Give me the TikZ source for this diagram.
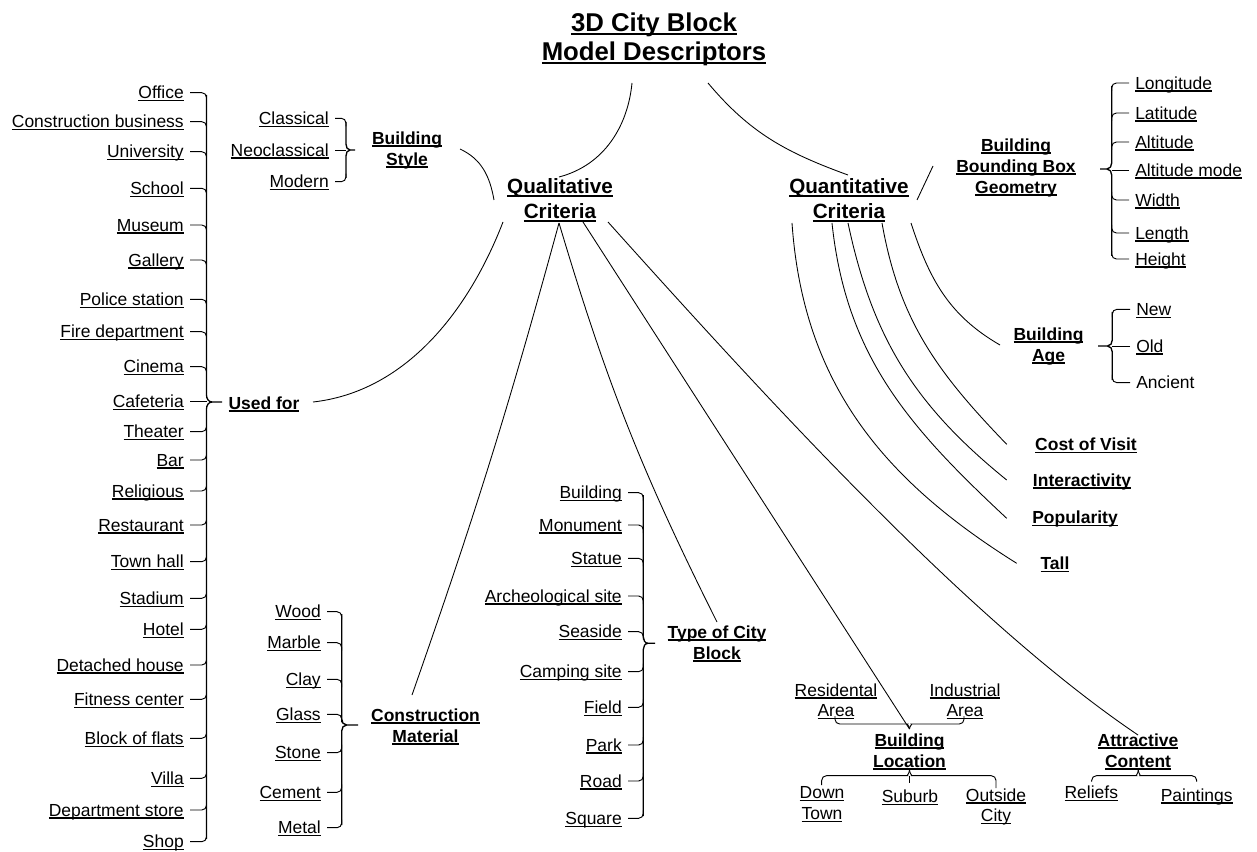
\documentclass[tikz,border=0pt]{standalone}
\usepackage{fontspec}
\setmainfont{Liberation Sans}
\usetikzlibrary{calc}
% underlines at a fixed depth below the baseline
\newcommand\ulr[1]{\setbox0\hbox{#1}\rlap{\rule[-0.1425em]{\wd0}{0.073em}}\box0}
\newcommand\ulb[1]{\setbox0\hbox{#1}\rlap{\rule[-0.155em]{\wd0}{0.1em}}\box0}

\begin{document}
\begin{tikzpicture}[x=0.75pt,y=0.75pt,
  leaf/.style={inner sep=0pt, font=\fontsize{13.1pt}{15.5pt}\selectfont, text height=9.4pt, text depth=0pt},
  twoline/.style={inner sep=0pt, align=center, font=\fontsize{13.1pt}{15.5pt}\selectfont},
  sub1/.style={inner sep=0pt, font=\fontsize{13.1pt}{15.75pt}\selectfont\bfseries, text height=9.4pt, text depth=0pt},
  bold2/.style={inner sep=0pt, align=center, font=\fontsize{13.1pt}{15.75pt}\selectfont\bfseries},
  crit/.style={inner sep=0pt, align=center, font=\fontsize{15.5pt}{18.75pt}\selectfont\bfseries},
  ttl/.style={inner sep=0pt, align=center, font=\fontsize{19.3pt}{21.75pt}\selectfont\bfseries},
  link/.style={line width=0.65pt},
  hook/.style={line width=0.7pt, rounded corners=3.5pt},
  spine/.style={line width=1pt, line join=round}]
\useasboundingbox (0,0) rectangle (1257,-852);

% ---------- main nodes ----------
\node[ttl] (title) at (654,-39) {\ulb{3D City Block}\\\ulb{Model Descriptors}};
\node[crit] (qual) at (560,-200) {\ulb{Qualitative}\\\ulb{Criteria}};
\node[crit] (quant) at (849,-200.5) {\ulb{Quantitative}\\\ulb{Criteria}};

% ---------- qualitative branches ----------
\node[bold2] (style) at (407,-150) {\ulb{Building}\\\ulb{Style}};
\node[sub1] (usedfor) at (264,-403) {\ulb{Used for}};
\node[bold2] (cm) at (425.5,-727) {\ulb{Construction}\\\ulb{Material}};
\node[bold2] (type) at (717,-644) {\ulb{Type of City}\\\ulb{Block}};
\node[bold2] (loc) at (909.5,-752) {\ulb{Building}\\\ulb{Location}};
\node[bold2] (attr) at (1138,-752) {\ulb{Attractive}\\\ulb{Content}};

% ---------- quantitative branches ----------
\node[bold2] (bbg) at (1016,-167.5) {\ulb{Building}\\\ulb{Bounding Box}\\\ulb{Geometry}};
\node[bold2] (age) at (1048.5,-346.5) {\ulb{Building}\\\ulb{Age}};
\node[sub1] (cost) at (1086,-444.3) {\ulb{Cost of Visit}};
\node[sub1] (inter) at (1082,-480) {\ulb{Interactivity}};
\node[sub1] (pop) at (1075,-517.3) {\ulb{Popularity}};
\node[sub1] (tall) at (1055,-563.3) {\ulb{Tall}};

% ---------- connectors between the main nodes ----------
\draw[link] ($(title)+(-22,-44)$) .. controls +(-4,-42) and +(46,12) .. ($(qual)+(-1,23)$);
\draw[link] ($(title)+(54,-44)$) to[out=-50,in=160] ($(quant)+(-1,25.5)$);

\draw[link] ($(qual)+(-66,0)$) to[out=100,in=-25] ($(style)+(53,1)$);
\draw[link] ($(qual)+(-57,-22)$) .. controls +(-36,-93) and +(90,10) .. ($(usedfor)+(49,1)$);
\draw[link] ($(qual)+(-1,-23)$) to[bend left=2] ($(cm)+(-13.5,32)$);
\draw[link] ($(qual)+(-1,-23)$) to[bend right=5] ($(type)+(0,22)$);
\coordinate (loctop) at (909.5,-729);
\draw[link] ($(qual)+(23,-22)$) -- (loctop);
\draw[link] ($(qual)+(48,-22)$) .. controls +(167,-186) and +(-166,112) .. ($(attr)+(0,17)$);

\draw[link] ($(quant)+(68,0.5)$) -- ($(bbg)+(-83,1.5)$);
\draw[link] ($(quant)+(62,-22.5)$) to[out=-72,in=150] ($(age)+(-48.5,1.5)$);
\draw[link] ($(quant)+(33,-22.5)$) to[out=-80,in=134] ($(cost)+(-79.3,0)$);
\draw[link] ($(quant)+(-1,-22.5)$) to[out=-78,in=141] ($(inter)+(-75.3,0)$);
\draw[link] ($(quant)+(-17,-22.5)$) to[out=-84,in=137] ($(pop)+(-68.3,-1)$);
\draw[link] ($(quant)+(-57,-22.5)$) to[out=-86,in=148] ($(tall)+(-38.3,0)$);

% ---------- Used for ----------
\foreach \nm/\lbl/\y in {office/Office/92.7, cbus/Construction business/121.7, univ/University/151.7,
  school/School/188.3, museum/Museum/225, gallery/Gallery/260, police/Police station/299.3,
  fire/Fire department/331.7, cinema/Cinema/366.7, cafe/Cafeteria/401.7, theater/Theater/431.7,
  bar/Bar/460, relig/Religious/491, rest/Restaurant/525, townhall/Town hall/561.7,
  stadium/Stadium/598.3, hotel/Hotel/629.3, detached/Detached house/665,
  fitness/Fitness center/699.3, flats/Block of flats/738.3, villa/Villa/778.3,
  dept/Department store/810, shop/Shop/841.7}
  \node[leaf, anchor=east] (\nm) at (184,-\y) {\ulr{\lbl}};
\foreach \nm in {office,cbus,univ,school,museum,gallery,police,fire,cinema}
  \draw[hook] ($(\nm.east)+(6,0)$) -| ++(16.5,-8);
\draw[hook] ($(cafe.east)+(6,0)$) -- ++(16.5,0);
\foreach \nm in {theater,bar,relig,rest,townhall,stadium,hotel,detached,fitness,flats,villa,dept,shop}
  \draw[hook] ($(\nm.east)+(6,0)$) -| ++(16.5,8);
\draw[spine] (206.5,-95) -- (206.5,-395) to[out=-90,in=180] (212,-402) -- (222,-402);
\draw[spine] (206.5,-839) -- (206.5,-409) to[out=90,in=180] (212,-402);

% ---------- Building Style ----------
\foreach \nm/\lbl/\y in {classical/Classical/118.3, neo/Neoclassical/150, modern/Modern/181.7}
  \node[leaf, anchor=east] (\nm) at (329,-\y) {\ulr{\lbl}};
\draw[hook] ($(classical.east)+(6,0)$) -| ++(11,-8);
\draw[hook] ($(neo.east)+(6,0)$) -- ++(11,0);
\draw[hook] ($(modern.east)+(6,0)$) -| ++(11,8);
\draw[spine] (346,-122) -- (346,-144) to[out=-90,in=180] (350,-150) -- (355,-150);
\draw[spine] (346,-178) -- (346,-156) to[out=90,in=180] (350,-150);

% ---------- Construction Material ----------
\foreach \nm/\lbl/\y in {wood/Wood/611.7, marble/Marble/642.7, clay/Clay/679.3, glass/Glass/714.3,
  stone/Stone/752.7, cement/Cement/792.3, metal/Metal/827.7}
  \node[leaf, anchor=east] (\nm) at (321,-\y) {\ulr{\lbl}};
\foreach \nm in {wood,marble,clay,glass}
  \draw[hook] ($(\nm.east)+(6,0)$) -| ++(14.7,-8);
\foreach \nm in {stone,cement,metal}
  \draw[hook] ($(\nm.east)+(6,0)$) -| ++(14.7,8);
\draw[spine] (341.7,-614) -- (341.7,-719) to[out=-90,in=180] (346.5,-725) -- (358,-725);
\draw[spine] (341.7,-825) -- (341.7,-731) to[out=90,in=180] (346.5,-725);

% ---------- Type of City Block ----------
\foreach \nm/\lbl/\y in {bldg/Building/492.7, monument/Monument/525, statue/Statue/558.3,
  arch/Archeological site/596, seaside/Seaside/631.7, camping/Camping site/671.7,
  field/Field/707.3, park/Park/745, road/Road/781, square/Square/818.3}
  \node[leaf, anchor=east] (\nm) at (622,-\y) {\ulr{\lbl}};
\foreach \nm in {bldg,monument,statue,arch,seaside}
  \draw[hook] ($(\nm.east)+(6,0)$) -| ++(15.3,-8);
\foreach \nm in {camping,field,park,road,square}
  \draw[hook] ($(\nm.east)+(6,0)$) -| ++(15.3,8);
\draw[spine] (643.3,-495) -- (643.3,-637) to[out=-90,in=180] (648,-643.3) -- (655,-643.3);
\draw[spine] (643.3,-816) -- (643.3,-649.5) to[out=90,in=180] (648,-643.3);

% ---------- Building Bounding Box Geometry ----------
\foreach \nm/\lbl/\y in {lon/Longitude/83, lat/Latitude/113, alt/Altitude/142, altmode/Altitude mode/170,
  width/Width/200, length/Length/233, height/Height/259}
  \node[leaf, anchor=west] (\nm) at (1135,-\y) {\ulr{\lbl}};
\foreach \nm in {lon,lat,alt}
  \draw[hook] ($(\nm.west)+(-6,0)$) -| ++(-17.3,-8);
\draw[hook] ($(altmode.west)+(-6,0)$) -- ++(-17.3,0);
\foreach \nm in {width,length,height}
  \draw[hook] ($(\nm.west)+(-6,0)$) -| ++(-17.3,8);
\draw[spine] (1111.7,-86) -- (1111.7,-163) to[out=-90,in=0] (1107,-169) -- (1100,-169);
\draw[spine] (1111.7,-256) -- (1111.7,-175) to[out=90,in=0] (1107,-169);

% ---------- Building Age ----------
\node[leaf, anchor=west] (new) at (1136,-309.3) {\ulr{New}};
\node[leaf, anchor=west] (old) at (1136,-346) {\ulr{Old}};
\node[leaf, anchor=west] (ancient) at (1136,-382.7) {Ancient};
\draw[hook] ($(new.west)+(-6,0)$) -| ++(-17.7,-8);
\draw[hook] ($(old.west)+(-6,0)$) -- ++(-17.7,0);
\draw[hook] ($(ancient.west)+(-6,0)$) -| ++(-17.7,8);
\draw[spine] (1112.3,-312) -- (1112.3,-340) to[out=-90,in=0] (1107.5,-346) -- (1098,-346);
\draw[spine] (1112.3,-380) -- (1112.3,-352) to[out=90,in=0] (1107.5,-346);

% ---------- Building Location ----------
\node[twoline] (resid) at (836,-701.5) {\ulr{Residental}\\\ulr{Area}};
\node[twoline] (indus) at (965,-701.5) {\ulr{Industrial}\\\ulr{Area}};
\draw[hook] (835,-716) |- (903,-724) to[out=0,in=90] (loctop);
\draw[hook] (964,-716) |- (916,-724) to[out=180,in=90] (loctop);

\node[twoline] (down) at (822,-804.5) {\ulr{Down}\\\ulr{Town}};
\node[leaf] (suburb) at (910,-796.7) {\ulr{Suburb}};
\node[twoline] (outside) at (996,-807) {\ulr{Outside}\\\ulr{City}};
\coordinate (locbot) at (909.5,-770);
\draw[hook] (821.7,-785) |- (903,-775.7) to[out=0,in=-90] (locbot);
\draw[hook] (996,-788) |- (916,-775.7) to[out=180,in=-90] (locbot);
\draw[hook] (909.5,-775.7) -- (909.5,-783);

% ---------- Attractive Content ----------
\node[leaf] (reliefs) at (1091.3,-792.7) {\ulr{Reliefs}};
\node[leaf] (paint) at (1196.7,-795) {\ulr{Paintings}};
\coordinate (attbot) at (1138.3,-770);
\draw[hook] (1091.7,-781.7) |- (1132,-775.7) to[out=0,in=-90] (attbot);
\draw[hook] (1196.7,-781.7) |- (1144.5,-775.7) to[out=180,in=-90] (attbot);
\end{tikzpicture}
\end{document}
